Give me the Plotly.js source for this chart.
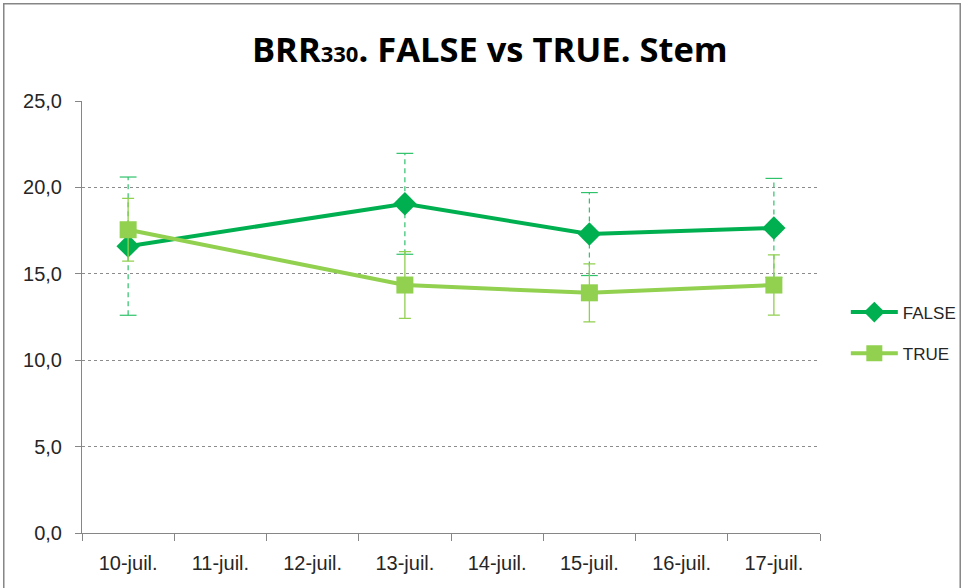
<!DOCTYPE html>
<html>
<head>
<meta charset="utf-8">
<script src="https://cdn.plot.ly/plotly-3.0.1.min.js"></script>
<style>html,body{margin:0;padding:0;background:#fff;}#chart{width:968px;height:588px;}</style>
</head>
<body>
<div id="chart"></div>
<script>
// Data
const categories = ['10-juil.', '11-juil.', '12-juil.', '13-juil.', '14-juil.', '15-juil.', '16-juil.', '17-juil.'];
const dates = ['10-juil.', '13-juil.', '15-juil.', '17-juil.'];
const falseValues = [16.6, 19.05, 17.3, 17.65];
const falseErrors = [4.0, 2.92, 2.4, 2.87];
const trueValues = [17.55, 14.35, 13.9, 14.35];
const trueErrors = [1.82, 1.93, 1.68, 1.74];
const yTicks = [0, 5, 10, 15, 20, 25];

const cFalse = '#00B050';
const cTrue = '#92D050';
const cFalseErr = '#2EC26A';

// dashed error bars for FALSE built from data
const errX = [], errY = [], capX = [], capY = [];
dates.forEach((d, i) => {
  errX.push(d, d, null);
  errY.push(falseValues[i] - falseErrors[i], falseValues[i] + falseErrors[i], null);
  capX.push(d, d);
  capY.push(falseValues[i] - falseErrors[i], falseValues[i] + falseErrors[i]);
});

const traces = [
  {x: errX, y: errY, type: 'scatter', mode: 'lines', line: {color: cFalseErr, width: 1.2, dash: '5px,4px'},
   showlegend: false, hoverinfo: 'skip', cliponaxis: false},
  {x: capX, y: capY, type: 'scatter', mode: 'markers',
   marker: {symbol: 'line-ew', size: 12, line: {color: cFalseErr, width: 1.2}},
   showlegend: false, hoverinfo: 'skip', cliponaxis: false},
  {x: dates, y: falseValues, name: 'FALSE', type: 'scatter', mode: 'lines+markers',
   line: {color: cFalse, width: 4}, marker: {symbol: 'diamond', size: 18, color: cFalse},
   legendgroup: 'a', cliponaxis: false},
  {x: dates, y: trueValues, name: 'TRUE', type: 'scatter', mode: 'lines+markers',
   line: {color: cTrue, width: 4}, marker: {symbol: 'square', size: 17, color: cTrue},
   error_y: {type: 'data', array: trueErrors, visible: true, color: cTrue, thickness: 1.3, width: 6},
   legendgroup: 'b', cliponaxis: false}
];

const layout = {
  width: 968, height: 588,
  margin: {l: 82, r: 148, t: 101, b: 55, autoexpand: false},
  paper_bgcolor: '#fff', plot_bgcolor: '#fff',
  separators: ',.',
  font: {family: 'Liberation Sans, Arial, sans-serif', color: '#262626', size: 16},
  title: {text: '<b>BRR<span style="font-size:22px">330</span>. FALSE vs TRUE. Stem</b>', x: 0.506, xanchor: 'center', y: 0.915, yanchor: 'middle',
          font: {family: 'Open Sans, Liberation Sans, sans-serif', size: 34.5, color: '#000'}},
  xaxis: {type: 'category', categoryorder: 'array', categoryarray: categories, range: [-0.5, 7.5],
          tickson: 'boundaries', ticks: 'outside', ticklen: 7, tickcolor: '#868686',
          showline: true, linecolor: '#868686', linewidth: 1, showgrid: false, zeroline: false,
          tickfont: {size: 20, color: '#262626'}, ticklabelstandoff: 12, fixedrange: true},
  yaxis: {range: [0, 25], tickvals: yTicks, tickformat: '.1f', ticks: 'outside', ticklen: 6, tickcolor: '#868686',
          showline: true, linecolor: '#868686', linewidth: 1, zeroline: false,
          showgrid: true, gridcolor: '#8c8c8c', griddash: 'dot', gridwidth: 1,
          tickfont: {size: 20, color: '#262626'}, ticklabelstandoff: 9, fixedrange: true},
  legend: {x: 1.035, xanchor: 'left', y: 0.463, yanchor: 'middle', font: {size: 17, color: '#262626'},
           itemwidth: 47, traceorder: 'grouped', tracegroupgap: 16, bgcolor: 'rgba(0,0,0,0)'},
  shapes: [{type: 'rect', xref: 'paper', yref: 'paper', x0: -0.106, x1: 1.19, y0: -0.2, y1: 1.225,
            line: {color: '#868686', width: 1.5}, fillcolor: 'rgba(0,0,0,0)', layer: 'below'}],
  showlegend: true
};

Plotly.newPlot('chart', traces, layout, {displayModeBar: false, staticPlot: true});
</script>
</body>
</html>
